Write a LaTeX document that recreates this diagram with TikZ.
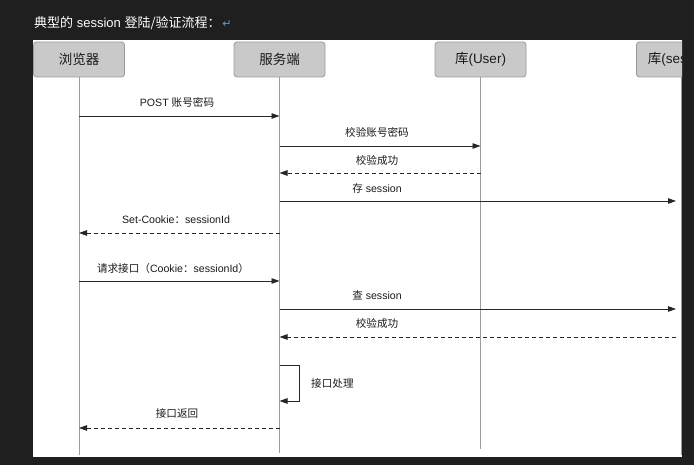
\documentclass[tikz,border=0pt]{standalone}
\usepackage{fontspec}
\setmainfont{Liberation Sans}
\newfontfamily\cjk{Noto Sans CJK SC}
\newfontfamily\dejavu{DejaVu Sans}
\usetikzlibrary{arrows.meta}
\definecolor{darkbg}{HTML}{1F1F1F}
\definecolor{hdrfill}{HTML}{C9C9C9}
\definecolor{hdrline}{HTML}{9A9A9A}
\definecolor{lifecol}{HTML}{9C9C9C}
\definecolor{retblue}{HTML}{5B9BD5}
\definecolor{txt}{HTML}{1A1A1A}
\tikzset{
  hdr/.style={draw=hdrline, fill=hdrfill, rounded corners=3pt, line width=0.8pt,
    minimum width=91pt, minimum height=35pt, inner sep=0pt, font=\fontsize{13.5}{15}\selectfont, text=txt},
  life/.style={draw=lifecol, line width=0.8pt},
  msg/.style={draw=black!85, line width=0.9pt, -{Triangle[length=8pt,width=5.5pt]}},
  ret/.style={msg, dash pattern=on 4pt off 3pt},
  lbl/.style={font=\fontsize{10.6}{12}\selectfont, text=txt, inner sep=0pt}
}
\begin{document}
\begin{tikzpicture}[x=1pt,y=-1pt]
\fill[darkbg] (0,0) rectangle (694,465);
\useasboundingbox (0,0) rectangle (694,465);
\node[anchor=west, text=white, inner sep=0pt, font=\fontsize{13}{15}\selectfont] (title) at (34,23)
  {{\cjk 典型的} session {\cjk 登陆/验证流程：}{\dejavu\fontsize{11}{13}\selectfont\color{retblue}\,↵}};
\fill[white] (33,40) rectangle (682,457);
\begin{scope}
\clip (33,40) rectangle (682,457);
% headers
\node[hdr] (b) at (79,59.5) {\cjk 浏览器};
\node[hdr] (s) at (279.5,59.5) {\cjk 服务端};
\node[hdr] (u) at (480.5,59.5) {{\cjk 库}(User)};
\node[hdr, anchor=west] (d) at (636,59.5) {{\cjk 库}(session)};
% lifelines
\coordinate (bEnd) at (79,455);
\coordinate (sEnd) at (279.5,453);
\coordinate (uEnd) at (480.5,449);
\coordinate (dTop) at (681.2,77);
\coordinate (dEnd) at (681.2,455);
\draw[life] (b.south) -- (bEnd);
\draw[life] (s.south) -- (sEnd);
\draw[life] (u.south) -- (uEnd);
\draw[life] (dTop) -- (dEnd);
% message anchor points
\coordinate (b1) at (79,116);   \coordinate (s1) at (279.5,116);
\coordinate (s2) at (279.5,146); \coordinate (u2) at (480.5,146);
\coordinate (u3) at (480.5,173); \coordinate (s3) at (279.5,173);
\coordinate (s4) at (279.5,201); \coordinate (d4) at (676,201);
\coordinate (s5) at (279.5,233); \coordinate (b5) at (79,233);
\coordinate (b6) at (79,281);   \coordinate (s6) at (279.5,281);
\coordinate (s7) at (279.5,309); \coordinate (d7) at (676,309);
\coordinate (d8) at (676,337);  \coordinate (s8) at (279.5,337);
\coordinate (s9a) at (279.5,365); \coordinate (l9a) at (299,365);
\coordinate (l9b) at (299,401);   \coordinate (s9b) at (279.5,401);
\coordinate (s10) at (279.5,428); \coordinate (b10) at (79,428);
% messages
\draw[msg] (b1) -- (s1);
\node[lbl] (t1) at (177,102) {POST {\cjk 账号密码}};
\draw[msg] (s2) -- (u2);
\node[lbl] (t2) at (377,132) {\cjk 校验账号密码};
\draw[ret] (u3) -- (s3);
\node[lbl] (t3) at (377,160) {\cjk 校验成功};
\draw[msg] (s4) -- (d4);
\node[lbl] (t4) at (377,188) {{\cjk 存} session};
\draw[ret] (s5) -- (b5);
\node[lbl] (t5) at (176,220) {Set-Cookie{\cjk ：}sessionId};
\draw[msg] (b6) -- (s6);
\node[lbl] (t6) at (173,268) {{\cjk 请求接口（}Cookie{\cjk ：}sessionId{\cjk ）}};
\draw[msg] (s7) -- (d7);
\node[lbl] (t7) at (377,295) {{\cjk 查} session};
\draw[ret] (d8) -- (s8);
\node[lbl] (t8) at (377,323) {\cjk 校验成功};
\draw[msg] (s9a) -- (l9a) -- (l9b) -- (s9b);
\node[lbl, anchor=west] (t9) at (311,383) {\cjk 接口处理};
\draw[ret] (s10) -- (b10);
\node[lbl] (t10) at (177,413) {\cjk 接口返回};
\end{scope}
\end{tikzpicture}
\end{document}
